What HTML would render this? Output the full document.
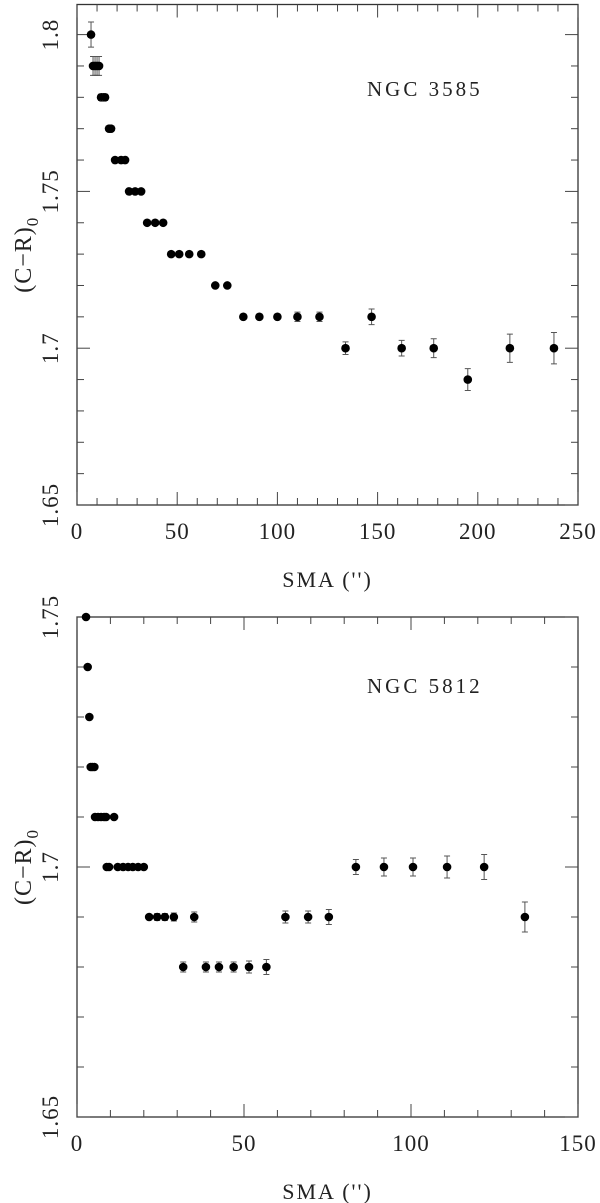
<!DOCTYPE html>
<html><head><meta charset="utf-8"><style>
html,body{margin:0;padding:0;background:#fff;}
svg{display:block;}
text{font-family:"Liberation Serif",serif;fill:#222;}
</style></head><body>
<svg id="c" width="600" height="1203" viewBox="0 0 600 1203"></svg>
<script>
// ---- Panel 1: NGC 3585 ----
const smaA = [7,8,9,10,11,12,13,14,16,17,19,22,24,26,29,32,35,39,43,47,51,56,62,69,75,83,91,100,110,121,134,147,162,178,195,216,238];
const colA = [1.80,1.79,1.79,1.79,1.79,1.78,1.78,1.78,1.77,1.77,1.76,1.76,1.76,1.75,1.75,1.75,1.74,1.74,1.74,1.73,1.73,1.73,1.73,1.72,1.72,1.71,1.71,1.71,1.71,1.71,1.70,1.71,1.70,1.70,1.69,1.70,1.70];
const errA = [0.004,0.003,0.003,0.003,0.003,0.001,0.001,0.001,0,0,0,0,0,0,0,0,0,0,0,0,0,0,0,0,0,0,0,0,0.0015,0.0015,0.002,0.0025,0.0025,0.003,0.0035,0.0045,0.005];
const xTicksA = [0,50,100,150,200,250];
const yTicksA = [1.65,1.7,1.75,1.8];
// ---- Panel 2: NGC 5812 ----
const smaB = [2.7,3.2,3.7,4.1,4.6,5.2,5.4,6.3,7.2,8.1,8.7,11.1,8.9,9.6,12.2,13.8,15.3,16.7,18.3,20.0,21.6,24,26.3,29,35.1,31.8,38.6,42.5,46.9,51.5,56.7,62.4,69.2,75.4,83.5,91.9,100.6,110.8,121.9,134.1];
const colB = [1.75,1.74,1.73,1.72,1.72,1.72,1.71,1.71,1.71,1.71,1.71,1.71,1.70,1.70,1.70,1.70,1.70,1.70,1.70,1.70,1.69,1.69,1.69,1.69,1.69,1.68,1.68,1.68,1.68,1.68,1.68,1.69,1.69,1.69,1.70,1.70,1.70,1.70,1.70,1.69];
const errB = [0,0,0,0,0,0,0,0,0,0,0,0,0,0,0,0,0,0,0,0,0.0005,0.0007,0.0007,0.0008,0.001,0.001,0.001,0.001,0.001,0.0012,0.0015,0.0012,0.0012,0.0015,0.0015,0.0018,0.0018,0.0022,0.0025,0.003];
const xTicksB = [0,50,100,150];
const yTicksB = [1.65,1.7,1.75];

const NS='http://www.w3.org/2000/svg';
const svg=document.getElementById('c');
function mk(tag,attrs,parent){const e=document.createElementNS(NS,tag);for(const k in attrs)e.setAttribute(k,attrs[k]);(parent||svg).appendChild(e);return e;}

function panel(o){
  const g=mk('g',{});
  
  
  const L=77,R=578,T=o.top,B=o.bottom;
  const xs=v=>L+(v-o.xmin)/(o.xmax-o.xmin)*(R-L);
  const ys=v=>B-(v-o.ymin)/(o.ymax-o.ymin)*(B-T);
  const fr=mk('rect',{x:L,y:T,width:R-L,height:B-T,fill:'none',stroke:'#333','stroke-width':1.3},g);
  
  
  for(let v=o.xmin;v<=o.xmax+1e-9;v+=10){
    const maj=Math.abs(v%50)<1e-9, len=maj?13:7, x=xs(v);
    mk('line',{x1:x,y1:B,x2:x,y2:B-len,stroke:'#444','stroke-width':1},g);
    mk('line',{x1:x,y1:T,x2:x,y2:T+len,stroke:'#444','stroke-width':1},g);
  }
  for(let v=o.ymin;v<=o.ymax+1e-9;v+=0.01){
    const maj=Math.abs(Math.round(v*100)%5)<1e-9, len=maj?13:7, y=ys(v);
    mk('line',{x1:L,y1:y,x2:L+len,y2:y,stroke:'#444','stroke-width':1},g);
    mk('line',{x1:R,y1:y,x2:R-len,y2:y,stroke:'#444','stroke-width':1},g);
  }
  o.xt.forEach(v=>{
    const t=mk('text',{x:xs(v),y:B+34,'text-anchor':'middle','font-size':23,'letter-spacing':'1'},g);
    t.textContent=String(v);
    
    
  });
  o.yt.forEach(v=>{
    const y=ys(v);
    const t=mk('text',{x:0,y:0,transform:`translate(58,${y}) rotate(-90)`,'text-anchor':'middle','font-size':23,'letter-spacing':'1'},g);
    t.textContent=String(v);
    
    
  });
  const xt=mk('text',{x:(L+R)/2,y:B+82,'text-anchor':'middle','font-size':22,'letter-spacing':'2'},g);
  xt.textContent="SMA ('')";
  
  
  const yt=mk('text',{x:0,y:0,transform:`translate(31,${(T+B)/2}) rotate(-90)`,'text-anchor':'middle','font-size':24,'letter-spacing':'1'},g);
  yt.innerHTML='(C−R)<tspan dy="7" font-size="17">0</tspan>';
  
  
  const lab=mk('text',{x:o.lx,y:o.ly,'font-size':21,'letter-spacing':'3'},g);
  lab.textContent=o.label;
  
  
  o.x.forEach((v,i)=>{
    const cx=xs(v),cy=ys(o.y[i]),e=o.e[i];
    if(e>0){
      const y1=ys(o.y[i]+e),y2=ys(o.y[i]-e);
      const eb=mk('path',{d:`M${cx},${y1}V${y2}M${cx-3},${y1}H${cx+3}M${cx-3},${y2}H${cx+3}`,stroke:'#555','stroke-width':1,fill:'none'},g);
      
      
    }
    const c=mk('circle',{cx:cx,cy:cy,r:4.3,fill:'#000'},g);
    
    
  });
}
panel({name:'panel-ngc3585',top:4.5,bottom:505,xmin:0,xmax:250,ymin:1.65,ymax:1.8096,x:smaA,y:colA,e:errA,xt:xTicksA,yt:yTicksA,label:'NGC 3585',lx:367,ly:96});
panel({name:'panel-ngc5812',top:617,bottom:1117,xmin:0,xmax:150,ymin:1.65,ymax:1.75,x:smaB,y:colB,e:errB,xt:xTicksB,yt:yTicksB,label:'NGC 5812',lx:367,ly:693});
</script>
</body></html>
